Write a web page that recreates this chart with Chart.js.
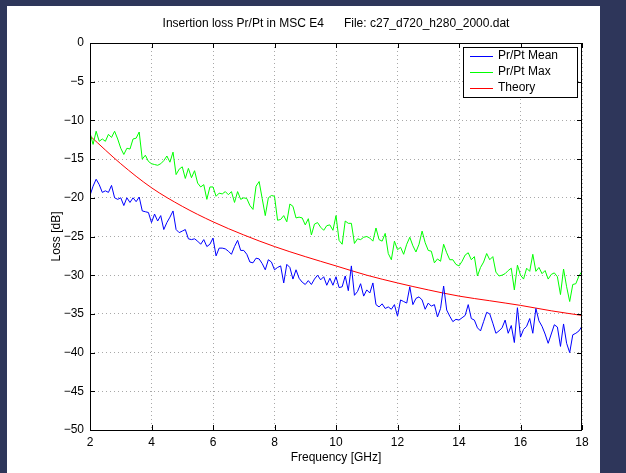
<!DOCTYPE html>
<html>
<head>
<meta charset="utf-8">
<title>Insertion loss</title>
<script src="https://cdn.jsdelivr.net/npm/chart.js@4.4.0/dist/chart.umd.min.js"></script>
<style>
  body { margin: 0; background: #2e365a; }
  #chart { display: block; }
</style>
</head>
<body>
<canvas id="chart" width="626" height="473"></canvas>
<script>
// frequency grid, 2..18 GHz in 0.1 GHz steps
let freq = [];
for (let i = 0; i <= 160; i++) freq.push(+(2 + i * 0.1).toFixed(1));

// Pr/Pt Mean [dB]
let meanLoss = [
  -19.7,-18.5,-17.6,-18.3,-19.3,-19.1,-19.3,-18.4,-20.0,-20.2,
  -20.0,-21.0,-20.0,-20.6,-20.0,-20.5,-19.9,-21.7,-21.8,-21.9,
  -23.2,-22.1,-23.0,-22.3,-24.1,-23.2,-22.5,-21.7,-24.1,-24.5,
  -24.3,-24.1,-25.3,-25.4,-25.3,-25.6,-26.0,-25.4,-26.3,-26.0,
  -25.2,-27.5,-26.5,-26.5,-26.6,-26.9,-27.3,-26.3,-25.5,-26.8,
  -26.8,-27.3,-28.3,-28.4,-27.8,-27.9,-28.5,-29.3,-28.0,-28.3,
  -29.3,-29.0,-28.8,-31.0,-28.6,-29.0,-30.5,-29.3,-30.4,-30.9,
  -31.2,-30.7,-31.2,-30.5,-30.0,-30.6,-30.2,-31.3,-30.4,-31.3,
  -30.2,-31.6,-31.5,-30.1,-32.0,-28.8,-32.6,-32.1,-31.1,-32.7,
  -31.9,-32.3,-31.0,-33.8,-34.1,-33.7,-34.3,-34.1,-34.4,-33.8,
  -35.3,-33.2,-33.4,-33.6,-31.5,-33.8,-33.0,-32.8,-33.2,-34.4,
  -33.6,-34.0,-33.8,-35.4,-34.3,-31.4,-34.5,-35.3,-36.0,-35.7,
  -35.8,-35.5,-35.2,-33.8,-35.6,-35.8,-36.8,-37.2,-36.0,-34.8,
  -35.0,-36.2,-37.5,-37.2,-36.8,-35.8,-37.5,-36.5,-38.7,-34.2,
  -38.0,-37.0,-36.6,-35.6,-37.5,-34.3,-35.9,-36.6,-37.6,-38.8,
  -37.6,-36.4,-36.7,-39.2,-36.3,-38.8,-40.0,-37.7,-37.5,-37.2,
  -36.6
];

// Pr/Pt Max [dB]
let maxLoss = [
  -11.6,-13.1,-11.4,-12.7,-12.4,-12.7,-11.8,-12.2,-11.4,-12.4,
  -13.6,-14.4,-13.6,-13.7,-12.4,-12.3,-11.5,-15.0,-14.5,-15.3,
  -15.6,-15.7,-15.8,-15.6,-15.2,-14.6,-15.4,-14.1,-17.0,-16.3,
  -16.0,-17.5,-16.2,-17.4,-16.5,-18.1,-18.6,-18.3,-20.2,-18.6,
  -18.6,-19.8,-19.4,-19.5,-19.2,-19.6,-19.2,-20.6,-19.2,-20.2,
  -20.0,-20.1,-21.0,-21.5,-18.5,-17.9,-20.1,-22.3,-20.0,-19.7,
  -19.8,-22.9,-22.8,-22.3,-23.1,-20.8,-21.1,-22.6,-22.5,-22.6,
  -23.5,-22.7,-24.8,-23.4,-23.2,-23.8,-24.2,-23.6,-23.5,-24.2,
  -22.3,-25.5,-26.0,-23.0,-23.3,-23.3,-25.9,-25.3,-25.4,-25.1,
  -25.0,-25.2,-25.6,-23.9,-25.4,-25.6,-24.6,-27.2,-28.0,-25.6,
  -26.7,-26.4,-27.3,-26.0,-25.1,-26.2,-27.0,-26.0,-24.3,-25.8,
  -26.8,-26.9,-28.4,-27.9,-28.2,-26.0,-27.1,-28.0,-28.0,-28.6,
  -28.8,-28.2,-27.4,-27.1,-28.0,-27.6,-30.1,-29.0,-28.3,-27.2,
  -28.0,-27.6,-29.6,-30.1,-30.0,-29.8,-29.4,-29.1,-31.9,-28.7,
  -30.0,-30.5,-29.1,-29.5,-27.3,-29.5,-29.0,-29.8,-29.4,-30.5,
  -29.9,-29.7,-30.2,-32.5,-29.2,-31.5,-33.4,-31.2,-31.1,-30.1,
  -29.5
];

// Theory curve, read at 1 GHz steps
let theoryFreq = [2,3,4,5,6,7,8,9,10,11,12,13,14,15,16,17,18];
let theoryLoss = [-12.0,-15.6,-18.7,-21.1,-23.1,-24.8,-26.3,-27.6,-28.8,-30.0,-31.0,-31.9,-32.7,-33.3,-33.9,-34.6,-35.2];

let xTicks = [2,4,6,8,10,12,14,16,18];
let yTicks = [0,-5,-10,-15,-20,-25,-30,-35,-40,-45,-50];

let titleText = 'Insertion loss Pr/Pt in MSC E4      File: c27_d720_h280_2000.dat';
let FONT = '12px "Liberation Sans", Arial, Helvetica, sans-serif';

function pts(xs, ys) {
  return ys.map(function(v, i) { return { x: xs[i], y: v }; });
}

// figure background, box, inward ticks, title, labels, legend
let matlabLook = {
  id: 'matlabLook',
  beforeDraw: function(chart) {
    let c = chart.ctx;
    c.save();
    c.fillStyle = '#2e365a';
    c.fillRect(0, 0, chart.width, chart.height);
    c.fillStyle = '#ffffff';
    c.fillRect(7, 6, 593, 467);
    c.restore();
  },
  afterDraw: function(chart) {
    let c = chart.ctx;
    let a = chart.chartArea;
    let xs = chart.scales.x, ys = chart.scales.y;
    c.save();
    c.strokeStyle = '#000';
    c.lineWidth = 1;
    c.strokeRect(a.left + 0.5, a.top + 0.5, a.right - a.left - 1, a.bottom - a.top);
    c.beginPath();
    xTicks.forEach(function(t) {
      let px = Math.round(xs.getPixelForValue(t)) + 0.5;
      c.moveTo(px, a.bottom); c.lineTo(px, a.bottom - 5);
      c.moveTo(px, a.top); c.lineTo(px, a.top + 5);
    });
    yTicks.forEach(function(t) {
      let py = Math.round(ys.getPixelForValue(t)) + 0.5;
      c.moveTo(a.left, py); c.lineTo(a.left + 5, py);
      c.moveTo(a.right, py); c.lineTo(a.right - 5, py);
    });
    c.stroke();

    c.fillStyle = '#000';
    c.font = FONT;
    c.textAlign = 'center';
    c.textBaseline = 'middle';
    c.fillText(titleText, (a.left + a.right) / 2, 24);
    c.fillText('Frequency [GHz]', (a.left + a.right) / 2, 458);
    c.save();
    c.translate(57, (a.top + a.bottom) / 2);
    c.rotate(-Math.PI / 2);
    c.fillText('Loss [dB]', 0, 0);
    c.restore();

    // legend
    let bx = 463, by = 47, bw = 114, bh = 50;
    c.fillStyle = '#fff';
    c.fillRect(bx, by, bw, bh);
    c.strokeStyle = '#000';
    c.strokeRect(bx + 0.5, by + 0.5, bw, bh);
    c.textAlign = 'left';
    chart.data.datasets.forEach(function(ds, i) {
      let y = by + 9 + i * 16;
      c.strokeStyle = ds.borderColor;
      c.beginPath();
      c.moveTo(470, y + 0.5); c.lineTo(493, y + 0.5);
      c.stroke();
      c.fillStyle = '#000';
      c.fillText(ds.label, 498, y);
    });
    c.restore();
  }
};

let ctx = document.getElementById('chart').getContext('2d');
let chart = new Chart(ctx, {
  type: 'line',
  data: {
    datasets: [
      { label: 'Pr/Pt Mean', data: pts(freq, meanLoss), borderColor: '#0000ff', borderWidth: 1, pointRadius: 0, tension: 0 },
      { label: 'Pr/Pt Max', data: pts(freq, maxLoss), borderColor: '#00ff00', borderWidth: 1, pointRadius: 0, tension: 0 },
      { label: 'Theory', data: pts(theoryFreq, theoryLoss), borderColor: '#ff0000', borderWidth: 1, pointRadius: 0, cubicInterpolationMode: 'monotone' }
    ]
  },
  options: {
    responsive: false,
    animation: false,
    events: [],
    layout: { padding: { left: 0, right: 44, top: 43, bottom: 0 } },
    plugins: { legend: { display: false }, title: { display: false }, tooltip: { enabled: false } },
    scales: {
      x: {
        type: 'linear', min: 2, max: 18,
        afterFit: function(s) { s.height = 43; },
        afterBuildTicks: function(s) { s.ticks = xTicks.map(function(v) { return { value: v }; }); },
        grid: { color: '#a8a8a8', drawTicks: false },
        border: { display: false, dash: [1, 3] },
        ticks: { color: '#000', font: { family: '"Liberation Sans", Arial, sans-serif', size: 12 }, padding: 5, maxRotation: 0 }
      },
      y: {
        type: 'linear', min: -50, max: 0,
        afterFit: function(s) { s.width = 90; },
        afterBuildTicks: function(s) { s.ticks = yTicks.map(function(v) { return { value: v }; }); },
        grid: { color: '#a8a8a8', drawTicks: false },
        border: { display: false, dash: [1, 3] },
        ticks: {
          color: '#000', font: { family: '"Liberation Sans", Arial, sans-serif', size: 12 }, padding: 6,
          callback: function(v) { return String(v).replace('-', '\u2212'); }
        }
      }
    }
  },
  plugins: [matlabLook]
});
</script>
</body>
</html>
